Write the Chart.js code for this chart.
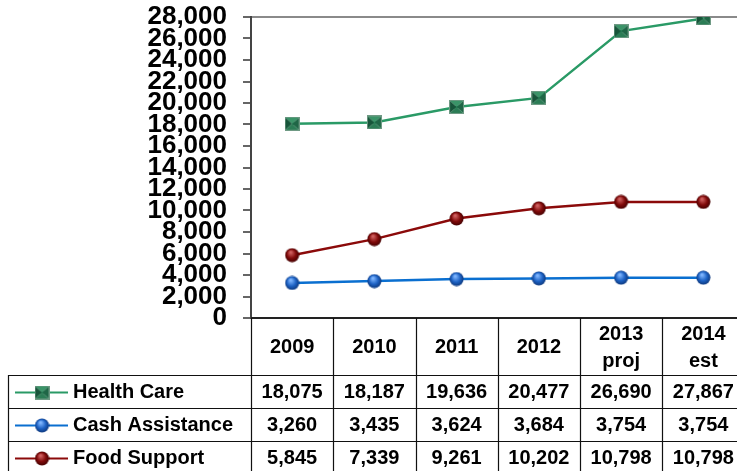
<!DOCTYPE html>
<html><head><meta charset="utf-8">
<script src="https://cdn.jsdelivr.net/npm/chart.js@4/dist/chart.umd.min.js"></script>
<style>html,body{margin:0;padding:0;overflow:hidden;background:#fff}canvas{display:block}</style>
</head><body>
<canvas id="c" width="751" height="480"></canvas>
<script>
// Program spending by year, with the values repeated in a data table under the plot
const years = ['2009', '2010', '2011', '2012', ['2013', 'proj'], ['2014', 'est']];
const healthCare = [18075, 18187, 19636, 20477, 26690, 27867];
const cashAssistance = [3260, 3435, 3624, 3684, 3754, 3754];
const foodSupport = [5845, 7339, 9261, 10202, 10798, 10798];
const seriesNames = ['Health Care', 'Cash Assistance', 'Food Support'];
const yMin = 0, yMax = 28000, yStep = 2000;

const FONT = "'Liberation Sans', Arial, sans-serif";

// Shaded round marker
function sphere(size, light, mid, dark) {
  const c = document.createElement('canvas');
  c.width = c.height = size;
  const g = c.getContext('2d');
  const r = size / 2;
  const grad = g.createRadialGradient(r * 0.8, r * 0.6, r * 0.1, r, r, r);
  grad.addColorStop(0, light);
  grad.addColorStop(0.55, mid);
  grad.addColorStop(1, dark);
  g.fillStyle = grad;
  g.beginPath();
  g.arc(r, r, r - 0.5, 0, Math.PI * 2);
  g.fill();
  return c;
}

// Bevelled square marker
function bevelSquare(w, h) {
  const c = document.createElement('canvas');
  c.width = w; c.height = h;
  const g = c.getContext('2d');
  const cx = w / 2, cy = h / 2;
  const tri = (pts, col) => {
    g.fillStyle = col; g.beginPath();
    g.moveTo(pts[0], pts[1]); g.lineTo(pts[2], pts[3]); g.lineTo(pts[4], pts[5]);
    g.closePath(); g.fill();
  };
  tri([0, 0, w, 0, cx, cy], '#3a9468');
  tri([0, 0, 0, h, cx, cy], '#17553a');
  tri([w, 0, w, h, cx, cy], '#1f6646');
  tri([0, h, w, h, cx, cy], '#2b7c55');
  g.strokeStyle = '#6f9a84'; g.lineWidth = 1;
  g.strokeRect(0.5, 0.5, w - 1, h - 1);
  return c;
}

const markers = [
  bevelSquare(15, 14),
  sphere(15, '#7fb6ff', '#1d62c4', '#0b3375'),
  sphere(15, '#d0605f', '#800a0a', '#3e0000')
];
const lineColors = ['#2a9a66', '#0a6fd0', '#8b0a0a'];
const seriesValues = [healthCare, cashAssistance, foodSupport];

const fmt = v => v.toLocaleString('en-US');

// Data table drawn under the plot, aligned with the category columns
const dataTable = {
  id: 'dataTable',
  afterDraw(chart) {
    const { ctx, chartArea: a, scales: { x } } = chart;
    const step = x.getPixelForValue(1) - x.getPixelForValue(0);
    const headBottom = a.bottom + 57;
    const rowH = 33;
    const tableBottom = headBottom + rowH * 3;
    const tableLeft = 8;
    const right = a.right;
    ctx.save();
    // base line of the plot
    ctx.strokeStyle = '#222'; ctx.lineWidth = 2;
    ctx.beginPath(); ctx.moveTo(a.left, a.bottom); ctx.lineTo(right, a.bottom); ctx.stroke();
    // grid of the table
    ctx.strokeStyle = '#111'; ctx.lineWidth = 1.2;
    ctx.beginPath();
    for (let i = 0; i <= years.length; i++) {
      const xx = Math.round(x.getPixelForValue(0) - step / 2 + i * step) + 0.5;
      ctx.moveTo(xx, a.bottom); ctx.lineTo(xx, tableBottom);
    }
    for (let r = 0; r <= 3; r++) {
      const yy = Math.round(headBottom + r * rowH) + 0.5;
      ctx.moveTo(tableLeft, yy); ctx.lineTo(right, yy);
    }
    ctx.moveTo(tableLeft + 0.5, headBottom); ctx.lineTo(tableLeft + 0.5, tableBottom);
    ctx.stroke();

    ctx.fillStyle = '#000';
    ctx.font = 'bold 20px ' + FONT;
    ctx.textAlign = 'center';
    ctx.textBaseline = 'middle';
    // header row
    years.forEach((lab, i) => {
      const cx = x.getPixelForValue(i);
      const lines = Array.isArray(lab) ? lab : [lab];
      const mid = (a.bottom + headBottom) / 2 + 1;
      lines.forEach((t, k) => {
        ctx.fillText(t, cx, mid + (k - (lines.length - 1) / 2) * 27);
      });
    });
    // value rows with legend keys
    seriesValues.forEach((vals, r) => {
      const cy = headBottom + rowH * r + rowH / 2 + 1;
      vals.forEach((v, i) => {
        ctx.textAlign = 'center';
        ctx.fillText(fmt(v), x.getPixelForValue(i), cy);
      });
      ctx.strokeStyle = lineColors[r]; ctx.lineWidth = 2;
      ctx.beginPath(); ctx.moveTo(15, cy); ctx.lineTo(68, cy); ctx.stroke();
      const m = markers[r];
      ctx.drawImage(m, 42 - m.width / 2, cy - m.height / 2);
      ctx.textAlign = 'left';
      ctx.fillText(seriesNames[r], 73, cy);
    });
    ctx.restore();
  }
};

new Chart(document.getElementById('c'), {
  type: 'line',
  data: {
    labels: years,
    datasets: seriesValues.map((vals, i) => ({
      label: seriesNames[i],
      data: vals,
      borderColor: lineColors[i],
      backgroundColor: lineColors[i],
      borderWidth: 2.5,
      pointStyle: markers[i],
      tension: 0,
      fill: false
    }))
  },
  options: {
    responsive: false,
    animation: false,
    events: [],
    layout: { padding: { top: 17, left: 0, right: 0, bottom: 162 } },
    plugins: { legend: { display: false }, tooltip: { enabled: false } },
    scales: {
      x: { display: false, offset: true },
      y: {
        min: yMin, max: yMax,
        afterFit(scale) {
          scale.width = 251;
          scale.paddingTop = 0;
          scale.paddingBottom = 0;
        },
        ticks: {
          stepSize: yStep,
          autoSkip: false,
          padding: 16,
          color: '#000',
          font: { family: FONT, size: 26, weight: 'bold', lineHeight: 1 },
          callback: v => fmt(v)
        },
        grid: {
          drawOnChartArea: true,
          color: c => (c.tick && c.tick.value === yMax) ? '#8a8a8a' : 'rgba(0,0,0,0)',
          lineWidth: 2,
          tickLength: 8,
          tickColor: '#333',
          tickWidth: 1.5
        },
        border: { color: '#444', width: 2 }
      }
    }
  },
  plugins: [dataTable]
});
</script>
</body></html>
